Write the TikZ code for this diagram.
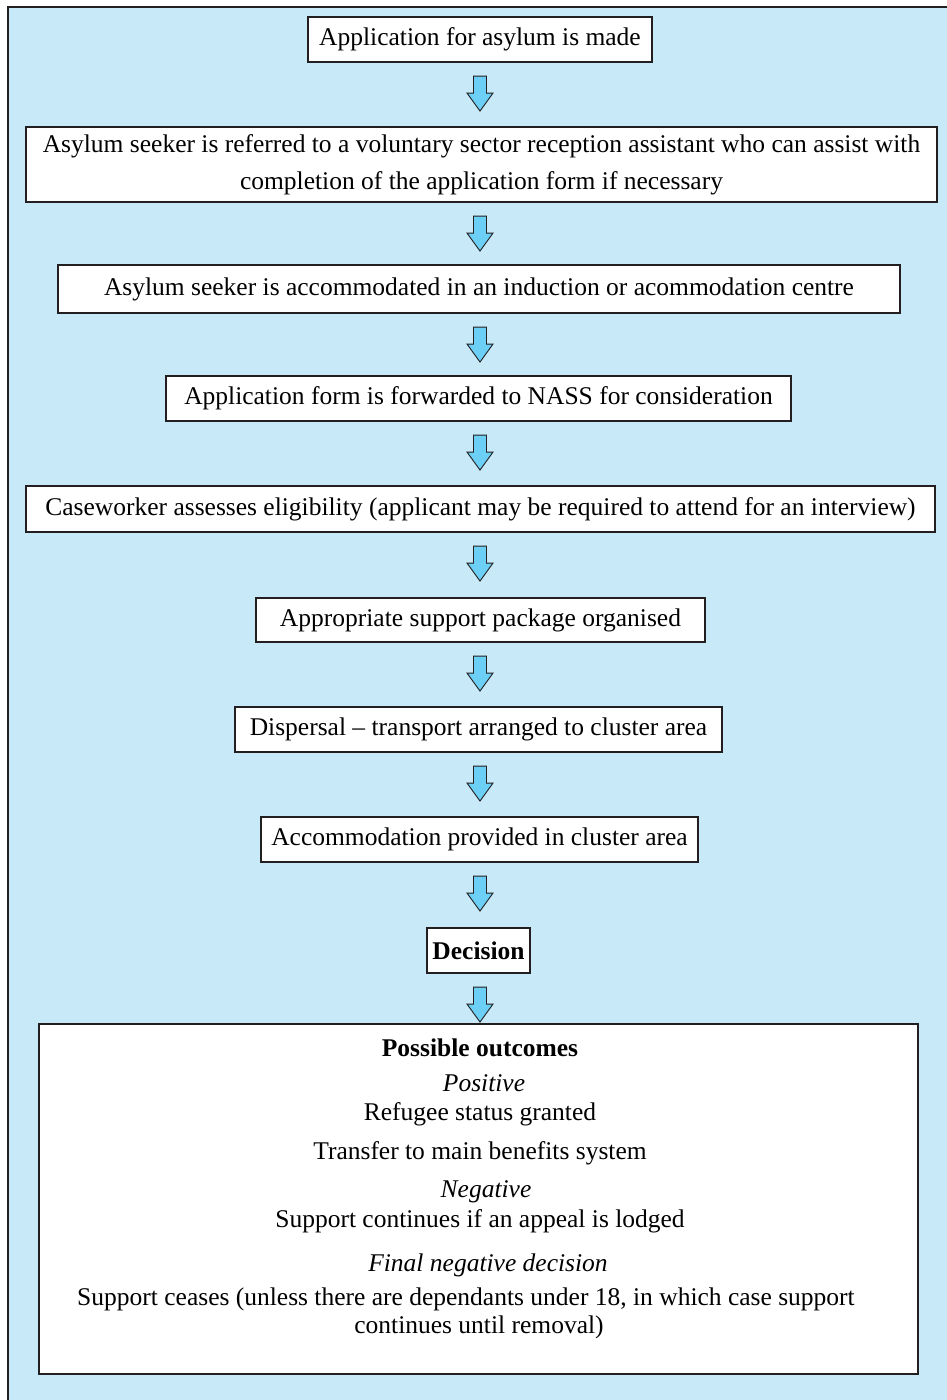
\documentclass[tikz,border=0pt]{standalone}
\usepackage{fontspec}
\setmainfont{Liberation Serif}
\usetikzlibrary{shadows}

\definecolor{panelblue}{HTML}{C7E9F8}
\definecolor{arrowblue}{HTML}{6CCFF6}
\definecolor{ink}{HTML}{231F20}

\newcommand\flowfont{\fontsize{25.5}{37}\selectfont}

\tikzset{
  flowbox/.style={draw=ink, line width=1.1pt, fill=white, inner sep=0pt,
    align=center, font=\flowfont,
    drop shadow={shadow xshift=1.3pt, shadow yshift=-1.3pt, fill=ink!75, opacity=1}},
  outline/.style={anchor=base, inner sep=0pt, font=\flowfont, align=center},
  blockarrow/.style={fill=arrowblue, draw=ink, line width=0.9pt, line join=miter},
}

% hollow block arrow hanging below a node, on the common axis
\newcommand\flowarrow[1]{%
  \filldraw[blockarrow] ([yshift=-13.5pt]#1.south -| axis)
    ++(-6.5pt,0pt) -- ++(13pt,0pt) -- ++(0pt,-17pt) -- ++(6.5pt,0pt)
    -- ++(-13pt,-18pt) -- ++(-13pt,18pt) -- ++(6.5pt,0pt) -- cycle;}

\begin{document}
\begin{tikzpicture}[x=1pt, y=-1pt]
  \useasboundingbox (0,0) rectangle (947,1400);

  % panel
  \fill[panelblue] (8,7) rectangle (947,1400);
  \draw[ink, line width=1.2pt] (947,7) -- (8,7) -- (8,1400);

  \coordinate (axis) at (480,0);

  % steps
  \node[flowbox, minimum width=344pt, minimum height=45pt] (apply) at (480,39.5)
    {Application for asylum is made};
  \node[flowbox, minimum width=911pt, minimum height=75pt] (refer) at (481.5,164.5)
    {Asylum seeker is referred to a voluntary sector reception assistant who can assist with\\
     completion of the application form if necessary};
  \node[flowbox, minimum width=842pt, minimum height=48pt] (induct) at (479,289)
    {Asylum seeker is accommodated in an induction or acommodation centre};
  \node[flowbox, minimum width=625pt, minimum height=45pt] (forward) at (478.5,398.5)
    {Application form is forwarded to NASS for consideration};
  \node[flowbox, minimum width=909pt, minimum height=46pt] (assess) at (480.5,509)
    {Caseworker assesses eligibility (applicant may be required to attend for an interview)};
  \node[flowbox, minimum width=449pt, minimum height=44pt] (support) at (480.5,620)
    {Appropriate support package organised};
  \node[flowbox, minimum width=487pt, minimum height=45pt] (disperse) at (478.5,729.5)
    {Dispersal -- transport arranged to cluster area};
  \node[flowbox, minimum width=437pt, minimum height=45pt] (house) at (479.5,839.5)
    {Accommodation provided in cluster area};
  \node[flowbox, minimum width=103pt, minimum height=45pt] (decide) at (478.5,950.5)
    {\bfseries Decision};
  \node[flowbox, minimum width=879pt, minimum height=350pt] (outcomes) at (478.5,1199) {};

  % outcome texts
  \node[outline] (o1) at (480,1056) {\bfseries Possible outcomes};
  \node[outline] (o2) at (484,1091) {\itshape Positive};
  \node[outline] (o3) at (480,1120) {Refugee status granted};
  \node[outline] (o4) at (480,1159) {Transfer to main benefits system};
  \node[outline] (o5) at (486,1197) {\itshape Negative};
  \node[outline] (o6) at (480,1227) {Support continues if an appeal is lodged};
  \node[outline] (o7) at (488,1271) {\itshape Final negative decision};
  \node[outline] (o8) at (466,1305) {Support ceases (unless there are dependants under 18, in which case support};
  \node[outline] (o9) at (479,1333) {continues until removal)};

  % arrows
  \flowarrow{apply}
  \flowarrow{refer}
  \flowarrow{induct}
  \flowarrow{forward}
  \flowarrow{assess}
  \flowarrow{support}
  \flowarrow{disperse}
  \flowarrow{house}
  \flowarrow{decide}
\end{tikzpicture}
\end{document}
